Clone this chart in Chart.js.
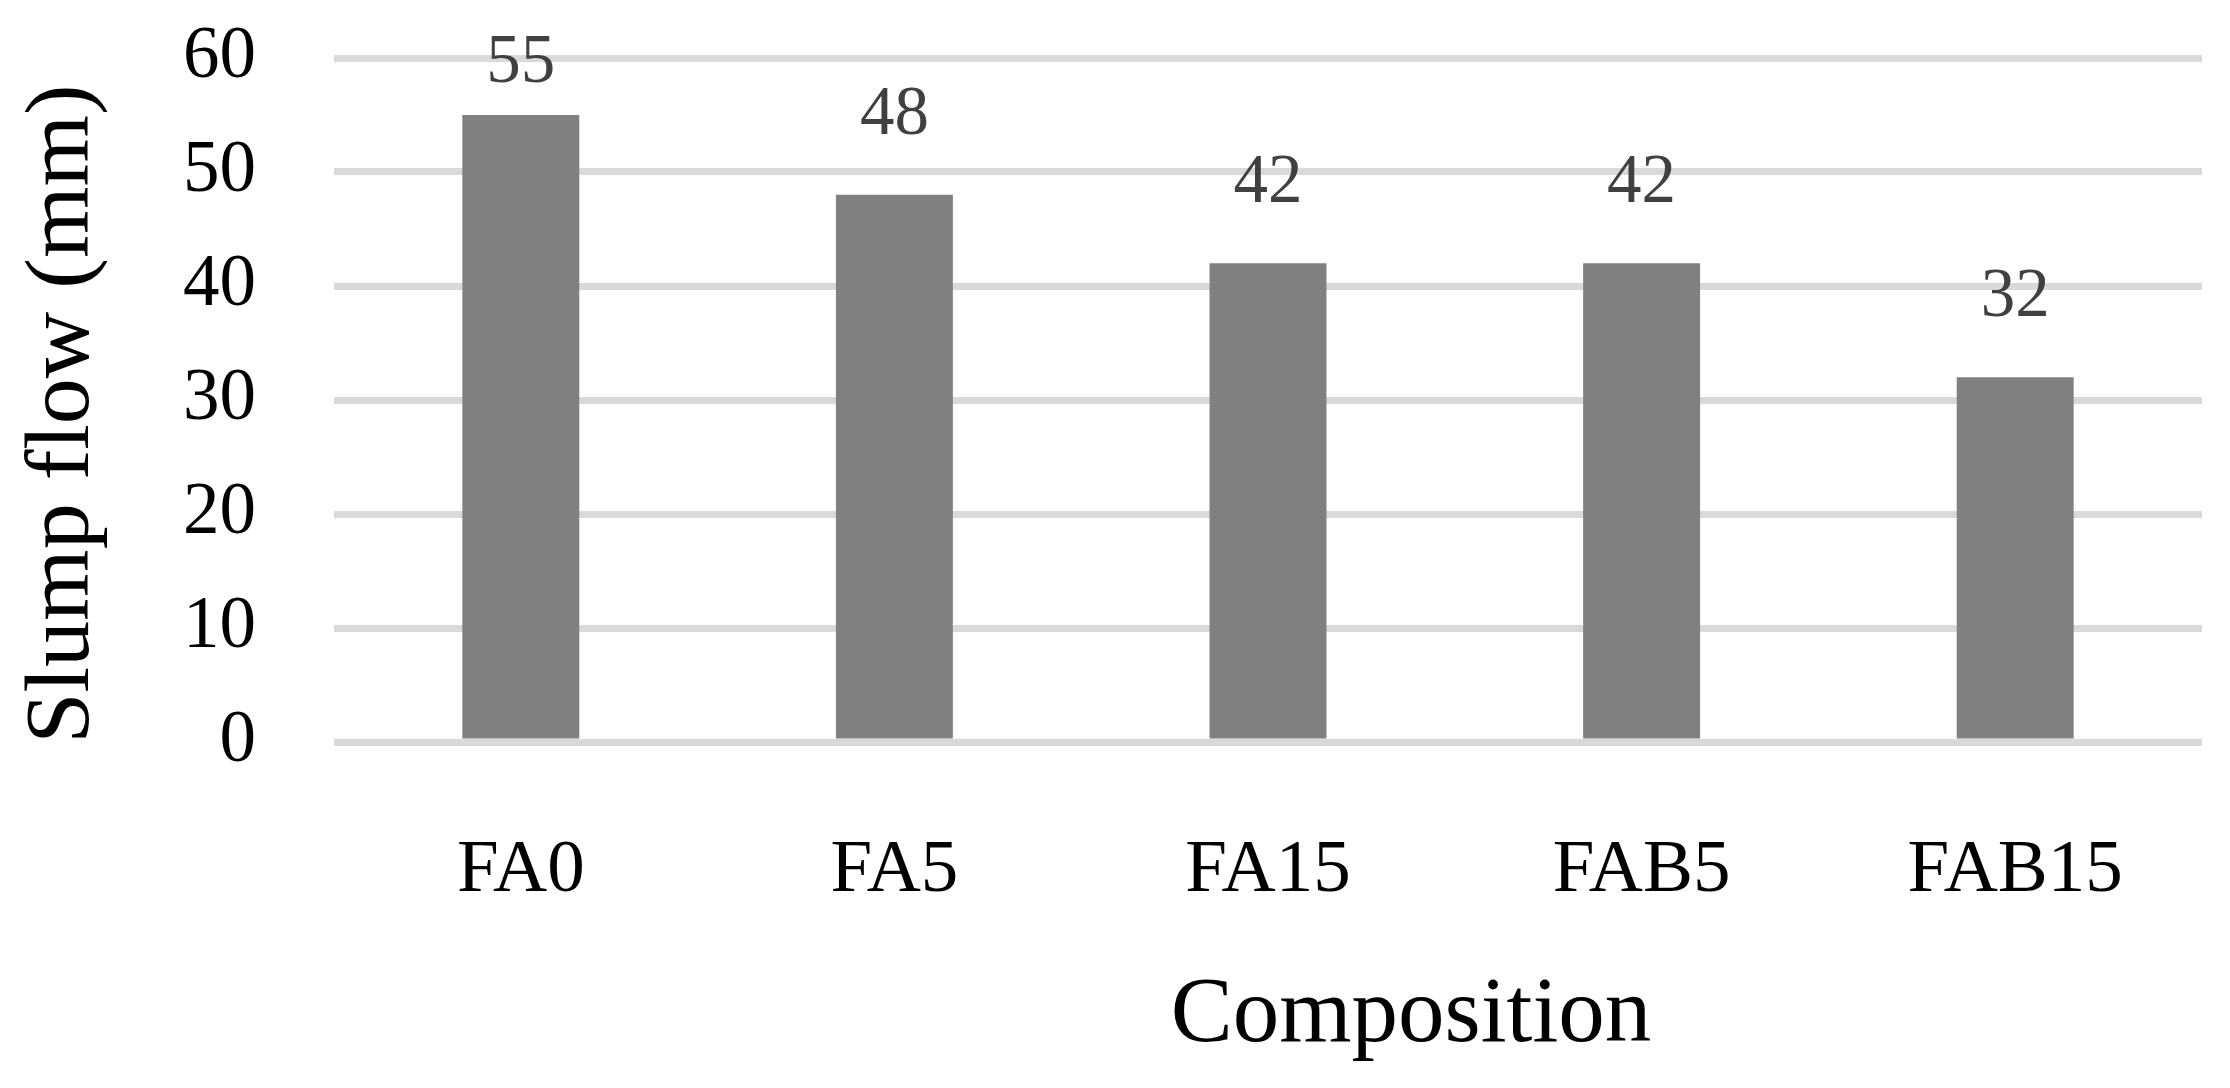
<!DOCTYPE html>
<html>
<head>
    <title>Slump flow</title>
    <script src="https://cdn.jsdelivr.net/npm/chart.js"></script>
    <style>
        html, body { margin: 0; padding: 0; background: #fff; }
        #wrap { width: 2230px; height: 1088px; }
    </style>
</head>
<body>
    <div id="wrap"><canvas id="chart" width="2230" height="1088"></canvas></div>

    <script>
        const compositions = ['FA0', 'FA5', 'FA15', 'FAB5', 'FAB15'];
        const slumpFlow = [55, 48, 42, 42, 32];
        const yTicks = [0, 10, 20, 30, 40, 50, 60];
        const xTitle = 'Composition';
        const yTitle = 'Slump flow (mm)';

        const serif = "'Liberation Serif', 'DejaVu Serif', serif";

        // value labels above the bars + the two axis titles
        const extras = {
            id: 'extras',
            afterDatasetsDraw(chart) {
                const ctx = chart.ctx;
                const meta = chart.getDatasetMeta(0);
                ctx.save();
                ctx.font = '69px ' + serif;
                ctx.fillStyle = '#404040';
                ctx.textAlign = 'center';
                ctx.textBaseline = 'middle';
                meta.data.forEach((bar, i) => {
                    const y = Math.max(bar.y - 79, 64);
                    ctx.fillText(String(slumpFlow[i]), bar.x, y);
                });

                ctx.fillStyle = '#000';
                ctx.font = '93px ' + serif;
                ctx.fillText(xTitle, 1411, 1017);

                ctx.font = '92px ' + serif;
                ctx.translate(64, 414);
                ctx.rotate(-Math.PI / 2);
                ctx.fillText(yTitle, 0, 0);
                ctx.restore();
            }
        };

        const ctx = document.getElementById('chart').getContext('2d');
        const chart = new Chart(ctx, {
            type: 'bar',
            data: {
                labels: compositions,
                datasets: [{
                    label: 'Slump flow',
                    data: slumpFlow,
                    backgroundColor: '#808080',
                    categoryPercentage: 1,
                    barPercentage: 0.313
                }]
            },
            options: {
                responsive: false,
                animation: false,
                layout: { padding: { top: 58, right: 28, left: 0, bottom: 0 } },
                plugins: {
                    legend: { display: false },
                    tooltip: { enabled: false }
                },
                scales: {
                    x: {
                        grid: { display: false },
                        border: { display: false },
                        ticks: {
                            color: '#000',
                            padding: 76,
                            font: { family: serif, size: 75 }
                        },
                        afterFit(scale) {
                            scale.height = 346;
                            scale.paddingLeft = 0;
                            scale.paddingRight = 0;
                        }
                    },
                    y: {
                        min: 0,
                        max: 60,
                        afterBuildTicks(scale) {
                            scale.ticks = yTicks.map(v => ({ value: v }));
                        },
                        grid: {
                            color: '#d9d9d9',
                            lineWidth: 7,
                            drawTicks: false
                        },
                        border: { display: false },
                        ticks: {
                            color: '#000',
                            padding: 78,
                            font: { family: serif, size: 73 }
                        },
                        afterFit(scale) {
                            scale.width = 334;
                            scale.paddingTop = 0;
                            scale.paddingBottom = 0;
                        }
                    }
                }
            },
            plugins: [extras]
        });
    </script>
</body>
</html>
